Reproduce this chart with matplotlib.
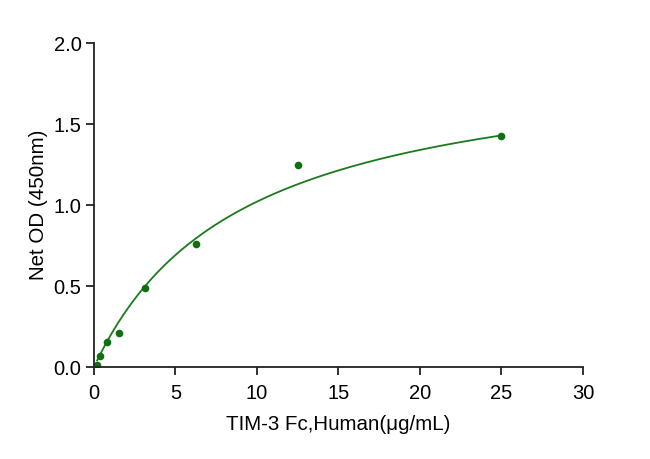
import numpy as np
import matplotlib.pyplot as plt

plt.rcParams['font.family'] = ['Liberation Sans', 'DejaVu Sans']

# concentration (ug/mL) and net OD readings
conc = [0.195, 0.39, 0.78, 1.5625, 3.125, 6.25, 12.5, 25]
od = [0.01, 0.07, 0.155, 0.21, 0.488, 0.762, 1.245, 1.425]

# one-site binding fit parameters
bmax = 1.95
kd = 9.1

x_ticks = [0, 5, 10, 15, 20, 25, 30]
y_ticks = [0.0, 0.5, 1.0, 1.5, 2.0]

green = '#1b7a1b'

fig = plt.figure(figsize=(6.5, 4.59), dpi=100)
ax = fig.add_axes([0.1446, 0.2004, 0.7523, 0.7059])

xs = np.linspace(conc[0], conc[-1], 300)
ax.plot(xs, bmax * xs / (kd + xs), color=green, lw=1.3)
ax.plot(conc, od, 'o', color='#107010', ms=5.5, mec='none')

ax.set_xlim(0, 30)
ax.set_ylim(0, 2.0)
ax.set_xticks(x_ticks)
ax.set_yticks(y_ticks)
ax.set_yticklabels([f'{v:.1f}' for v in y_ticks])

for s in ['top', 'right']:
    ax.spines[s].set_visible(False)
for s in ['left', 'bottom']:
    ax.spines[s].set_linewidth(1.3)
    ax.spines[s].set_color('#222222')
ax.tick_params(length=6, width=1.3, color='#222222', labelsize=14.5)
ax.tick_params(axis='x', pad=6)
ax.tick_params(axis='y', pad=3)

ax.set_xlabel('TIM-3 Fc,Human(μg/mL)', fontsize=14.8, labelpad=9)
ax.set_ylabel('Net OD (450nm)', fontsize=14.8, labelpad=4)

fig.savefig('out.png', dpi=100)
